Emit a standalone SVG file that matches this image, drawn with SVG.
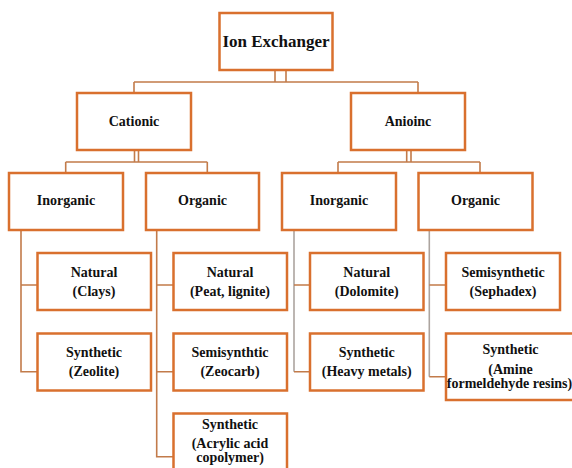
<svg xmlns="http://www.w3.org/2000/svg" width="572" height="468" viewBox="0 0 572 468">
<style>
.box{fill:#fff;stroke:#d9702e;stroke-width:2.5}
.t{font-family:'Liberation Serif','Times New Roman',Tinos,'DejaVu Serif',serif;font-weight:bold;font-size:14px;fill:#111;text-anchor:middle}
.root{font-size:17px}
.c{fill:none;stroke:#c27b4a;stroke-width:1.6}
.g{fill:none;stroke:#aca49f;stroke-width:1.6}
</style>
<rect width="572" height="468" fill="#fff"/>
<g id="connectors">
<path class="c" d="M275 70V82M286 70V82M134 82H418M134 82V93M418 82V93"/>
<path class="c" d="M134.5 150V162M138.5 150V162M65.7 162H207.3M65.7 162V173M207.3 162V173"/>
<path class="c" d="M406.7 150V162M411 150V162M338 162H480M338 162V173M480 162V173"/>
<path class="c" d="M21 230V371.7H37M21 285H37"/>
<path class="c" d="M156.7 230V456.7H173M156.7 285H173M156.7 371.7H173"/>
<path class="g" d="M294 230V371.7"/>
<path class="c" d="M294 285H310M294 371.7H310"/>
<path class="g" d="M429.3 230V376.7"/>
<path class="c" d="M429.3 285H446M429.3 376.7H446"/>
</g>
<g id="root"><rect class="box" x="219.5" y="13" width="113" height="57"/><text class="t root" x="276" y="47">Ion Exchanger</text></g>
<g id="cationic"><rect class="box" x="77" y="93" width="114" height="57"/><text class="t" x="134" y="126">Cationic</text></g>
<g id="anionic"><rect class="box" x="351" y="93" width="114" height="57"/><text class="t" x="408" y="126">Anioinc</text></g>
<g id="cat-inorganic"><rect class="box" x="9" y="173" width="114" height="57"/><text class="t" x="66" y="205">Inorganic</text></g>
<g id="cat-organic"><rect class="box" x="146" y="173" width="113" height="57"/><text class="t" x="202.5" y="205">Organic</text></g>
<g id="an-inorganic"><rect class="box" x="282" y="173" width="114" height="57"/><text class="t" x="339" y="205">Inorganic</text></g>
<g id="an-organic"><rect class="box" x="418.5" y="173" width="114" height="57"/><text class="t" x="475.5" y="205">Organic</text></g>
<g id="natural-clays"><rect class="box" x="37.5" y="253" width="113.5" height="57"/><text class="t" x="94" y="276.5">Natural</text><text class="t" x="94" y="296">(Clays)</text></g>
<g id="synthetic-zeolite"><rect class="box" x="37.5" y="333.5" width="113.5" height="57"/><text class="t" x="94" y="356.5">Synthetic</text><text class="t" x="94" y="376">(Zeolite)</text></g>
<g id="natural-peat"><rect class="box" x="173.5" y="253" width="113.5" height="57"/><text class="t" x="230" y="276.5">Natural</text><text class="t" x="230" y="296">(Peat, lignite)</text></g>
<g id="semisynthetic-zeocarb"><rect class="box" x="173.5" y="333.5" width="113.5" height="57"/><text class="t" x="230" y="356.5">Semisynthtic</text><text class="t" x="230" y="376">(Zeocarb)</text></g>
<g id="synthetic-acrylic"><rect class="box" x="173.5" y="413.5" width="113.5" height="60"/><text class="t" x="230" y="428.5">Synthetic</text><text class="t" x="230" y="448">(Acrylic acid</text><text class="t" x="230" y="462">copolymer)</text></g>
<g id="natural-dolomite"><rect class="box" x="310" y="253" width="113.5" height="57"/><text class="t" x="366.7" y="276.5">Natural</text><text class="t" x="366.7" y="296">(Dolomite)</text></g>
<g id="synthetic-heavy"><rect class="box" x="310" y="333.5" width="113.5" height="57"/><text class="t" x="366.7" y="356.5">Synthetic</text><text class="t" x="366.7" y="376">(Heavy metals)</text></g>
<g id="semisynthetic-sephadex"><rect class="box" x="446" y="253" width="114" height="57"/><text class="t" x="503" y="276.5">Semisynthetic</text><text class="t" x="503" y="296">(Sephadex)</text></g>
<g id="synthetic-amine"><rect class="box" x="446" y="333.5" width="132" height="66.5"/><text class="t" x="510.5" y="354">Synthetic</text><text class="t" x="510.5" y="374">(Amine</text><text class="t" x="509.5" y="387.5">formeldehyde resins)</text></g>
</svg>
